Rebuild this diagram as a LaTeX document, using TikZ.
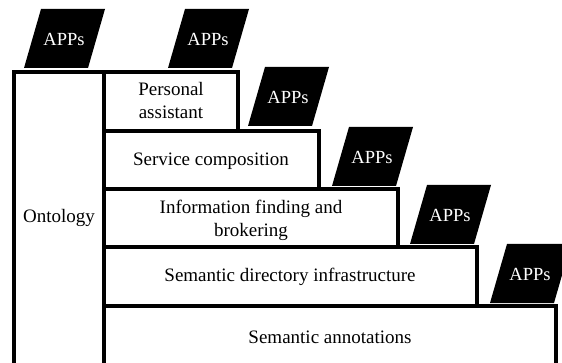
\documentclass[tikz,border=0pt]{standalone}
\usepackage{fontspec}
\setmainfont{Liberation Serif}
\usetikzlibrary{calc}
\begin{document}
\begin{tikzpicture}[x=1pt,y=-1pt,
  layer/.style={draw=black,line width=3.2pt,fill=white},
  lbl/.style={font=\fontsize{19}{23}\selectfont,align=center,inner sep=0pt},
  appbox/.style={fill=black},
  apptxt/.style={font=\fontsize{18.5}{22}\selectfont,text=white,inner sep=0pt}]
\useasboundingbox (0,0) rectangle (562,363);
\begin{scope}
\clip (0,0) rectangle (562,363);
% APPs parallelograms: bottom-left corner, width 63, height 59, slant 17
\foreach \n/\bx/\by in {a1/24/68, a2/168/68, a3/248/126, a4/332/186, a5/410/244, a6/490/303}{
  \fill[appbox] (\bx,\by) -- ++(64,0) -- ++(17,-59) -- ++(-64,0) -- cycle;
  \node[apptxt] (\n) at ($(\bx,\by)+(40,-28.5)$) {APPs};
}
% layers
\draw[layer] (14,72) rectangle (104,375);
\draw[layer] (104,72) rectangle (238,131);
\draw[layer] (104,131) rectangle (319,189);
\draw[layer] (104,189) rectangle (398,247);
\draw[layer] (104,247) rectangle (477,306);
\draw[layer] (104,306) rectangle (556,375);
\end{scope}
\node[lbl] (ont) at (59,218) {Ontology};
\node[lbl] (pa) at (171,101) {Personal\\assistant};
\node[lbl] (sc) at (211,161) {Service composition};
\node[lbl] (ifb) at (251,220) {Information finding and\\brokering};
\node[lbl] (sdi) at (290,277) {Semantic directory infrastructure};
\node[lbl] (sa) at (330,337) {Semantic annotations};
\end{tikzpicture}
\end{document}
